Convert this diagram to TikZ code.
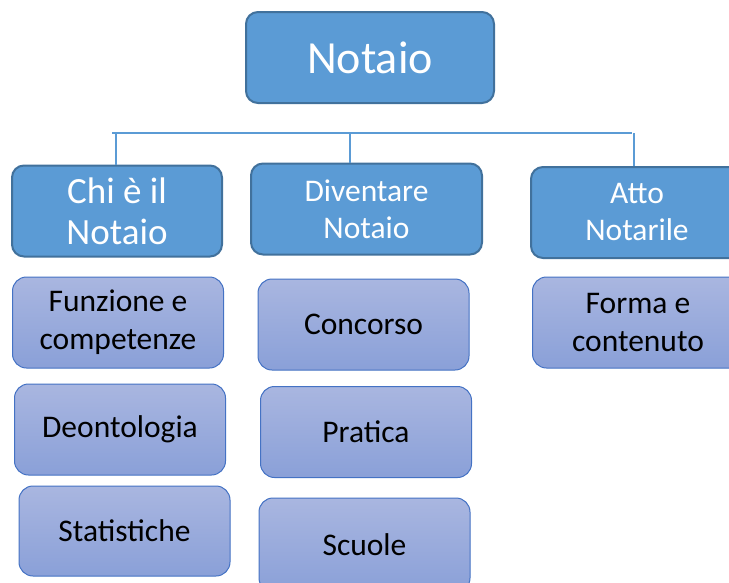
\documentclass[tikz,border=0pt]{standalone}
\usepackage{fontspec}
\setmainfont{Carlito}
\usetikzlibrary{positioning}
\definecolor{headfill}{HTML}{5B9BD5}
\definecolor{headline}{HTML}{41719C}
\definecolor{itemtop}{HTML}{A9B6E0}
\definecolor{itembot}{HTML}{8AA0D8}
\definecolor{itemline}{HTML}{4472C4}

\begin{document}
\begin{tikzpicture}[x=1pt,y=-1pt,
  headbox/.style={draw=headline,line width=2pt,fill=headfill,rounded corners=12pt,text=white,align=center,inner sep=0pt,minimum height=91pt},
  itembox/.style={draw=itemline,line width=1pt,top color=itemtop,bottom color=itembot,rounded corners=14pt,align=center,inner sep=0pt,minimum width=211pt,minimum height=91pt,font=\fontsize{31.5}{38}\selectfont},
  link/.style={draw=headfill,line width=2.5pt}]
  \clip (0,0) rectangle (729,582);
  \fill[white] (0,0) rectangle (729,582);

  \node (notaio) at (370,57.5)[headbox,minimum width=248pt,font=\fontsize{46}{50}\selectfont]{Notaio};

  \node (chi) at (117,211)[headbox,minimum width=210pt,font=\fontsize{37}{41}\selectfont]{Chi è il\\Notaio};
  \node (div) at (366.5,209)[headbox,minimum width=231pt,font=\fontsize{31.5}{37}\selectfont]{Diventare\\Notaio};
  \node (atto) at (637,212.5)[headbox,minimum width=212pt,font=\fontsize{31.5}{37}\selectfont]{Atto\\Notarile};

  \node (funz) at (118,322.5)[itembox]{Funzione e\\competenze};
  \node (deon) at (120,429.5)[itembox]{Deontologia};
  \node (stat) at (124.5,531)[itembox,minimum height=90pt]{Statistiche};
  \node (conc) at (363.5,324.5)[itembox]{Concorso};
  \node (prat) at (366,432)[itembox]{Pratica};
  \node (scuo) at (364.5,545)[itembox,minimum height=94pt]{Scuole};
  \node (forma) at (638,322.5)[itembox]{Forma e\\contenuto};

  \coordinate (b1) at (112,133);
  \coordinate (b2) at (632,133);
  \coordinate (v1) at (116,133);
  \coordinate (v2) at (350,133);
  \coordinate (v3) at (634,133);
  \draw[link](b1)--(b2);
  \draw[link](v1)--(v1 |- chi.north);
  \draw[link](v2)--(v2 |- div.north);
  \draw[link](v3)--(v3 |- atto.north);
\end{tikzpicture}
\end{document}
